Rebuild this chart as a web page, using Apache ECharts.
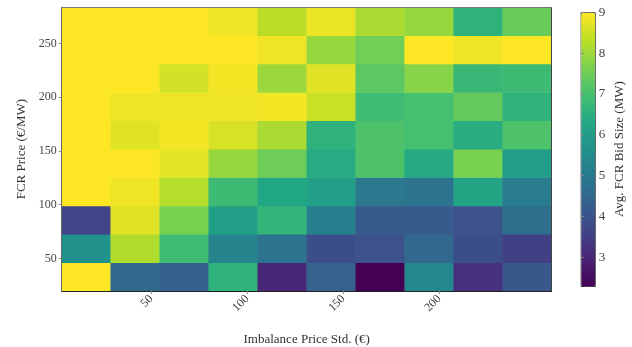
<!DOCTYPE html>
<html><head><meta charset="utf-8">
<script src="https://cdn.jsdelivr.net/npm/echarts@6/dist/echarts.min.js"></script>
<style>html,body{margin:0;padding:0;background:#fff}#c{width:632px;height:347px}</style>
</head><body><div id="c"></div>
<script>
// Bin edges of the heatmap (value units)
const xBinEdges = [3.3, 28.8, 54.4, 79.9, 105.4, 130.9, 156.5, 182.0, 207.5, 233.0, 258.5];
const yBinEdges = [19.6, 46.0, 72.4, 98.8, 125.2, 151.6, 178.0, 204.5, 230.9, 257.3, 283.7];
const xTickValues = [50, 100, 150, 200];
const yTickValues = [50, 100, 150, 200, 250];
const colorbarTicks = [3, 4, 5, 6, 7, 8, 9];
const valueMin = 2.3, valueMax = 9.0;
// Avg. FCR bid size (MW); rows from lowest FCR price bin to highest
const row0 = [9.0, 4.55, 4.35, 6.6, 3.0, 4.4, 2.3, 5.4, 3.25, 4.1];
const row1 = [5.65, 8.2, 6.9, 5.3, 4.85, 3.9, 3.98, 4.55, 3.9, 3.55];
const row2 = [3.65, 8.7, 7.65, 6.1, 6.7, 5.2, 4.2, 4.2, 4.0, 4.75];
const row3 = [9.0, 8.85, 8.25, 6.85, 6.3, 6.1, 4.95, 4.85, 6.2, 5.05];
const row4 = [9.0, 9.0, 8.75, 7.95, 7.5, 6.4, 7.1, 6.35, 7.65, 6.0];
const row5 = [9.0, 8.7, 8.92, 8.6, 8.15, 6.6, 7.1, 7.0, 6.45, 7.1];
const row6 = [9.0, 8.85, 8.85, 8.85, 8.9, 8.45, 6.9, 7.0, 7.4, 6.6];
const row7 = [9.0, 9.0, 8.55, 8.9, 8.0, 8.7, 7.3, 7.8, 6.75, 6.85];
const row8 = [9.0, 9.0, 9.0, 9.0, 8.85, 7.95, 7.55, 9.0, 8.85, 9.0];
const row9 = [9.0, 9.0, 9.0, 8.85, 8.3, 8.8, 8.15, 7.95, 6.6, 7.45];
const rows = [row0, row1, row2, row3, row4, row5, row6, row7, row8, row9];

const viridis = ['#440154','#482475','#414487','#355f8d','#2a788e','#21918c','#22a884','#44bf70','#7ad151','#bddf26','#fde725'];

const xCats = xBinEdges.slice(0, -1).map((e, i) => ((e + xBinEdges[i + 1]) / 2).toFixed(1));
const yCats = yBinEdges.slice(0, -1).map((e, i) => ((e + yBinEdges[i + 1]) / 2).toFixed(1));
const data = [];
rows.forEach((r, yi) => r.forEach((v, xi) => data.push([xi, yi, v])));

const font = 'Liberation Serif';
const labelStyle = { fontFamily: font, fontSize: 12, color: '#444' };
const G = { left: 61.7, top: 7.3, width: 490, height: 283.7 };
const CB = { left: 580.7, top: 12.3, width: 14, height: 273.7 };

const chart = echarts.init(document.getElementById('c'), null, { renderer: 'canvas' });
chart.setOption({
  animation: false,
  backgroundColor: '#fff',
  grid: [
    { left: G.left, top: G.top, width: G.width, height: G.height, outerBoundsMode: 'none', containLabel: false },
    { left: CB.left, top: CB.top, width: CB.width, height: CB.height, outerBoundsMode: 'none', containLabel: false }
  ],
  xAxis: [
    { type: 'category', gridIndex: 0, data: xCats, show: false },
    { type: 'value', gridIndex: 0, position: 'bottom', min: xBinEdges[0], max: xBinEdges[10], z: 5,
      axisLine: { show: true, lineStyle: { color: '#222', width: 1 } },
      axisTick: { show: true, length: 3, customValues: xTickValues, lineStyle: { color: '#888' } },
      axisLabel: { customValues: xTickValues, rotate: 45, margin: 6, ...labelStyle },
      splitLine: { show: false },
      name: 'Imbalance Price Std. (€)', nameLocation: 'middle', nameGap: 42,
      nameTextStyle: { fontFamily: font, fontSize: 13, color: '#333' } },
    { type: 'value', gridIndex: 0, position: 'top', min: xBinEdges[0], max: xBinEdges[10], z: 5,
      axisLine: { show: true, lineStyle: { color: '#777' } }, axisTick: { show: false },
      axisLabel: { show: false }, splitLine: { show: false } },
    { type: 'value', gridIndex: 1, show: false, min: 0, max: 1 }
  ],
  yAxis: [
    { type: 'category', gridIndex: 0, data: yCats, show: false },
    { type: 'value', gridIndex: 0, position: 'left', min: yBinEdges[0], max: yBinEdges[10], z: 5,
      axisLine: { show: true, lineStyle: { color: '#666' } },
      axisTick: { show: true, length: 3, customValues: yTickValues, lineStyle: { color: '#888' } },
      axisLabel: { customValues: yTickValues, margin: 5, ...labelStyle },
      splitLine: { show: false },
      name: 'FCR Price (€/MW)', nameLocation: 'middle', nameGap: 34,
      nameTextStyle: { fontFamily: font, fontSize: 13, color: '#333' } },
    { type: 'value', gridIndex: 0, position: 'right', min: yBinEdges[0], max: yBinEdges[10], z: 5,
      axisLine: { show: true, lineStyle: { color: '#444' } }, axisTick: { show: false },
      axisLabel: { show: false }, splitLine: { show: false } },
    { type: 'value', gridIndex: 1, position: 'right', min: valueMin, max: valueMax, z: 5,
      axisLine: { show: false },
      axisTick: { show: true, length: 3, customValues: colorbarTicks, lineStyle: { color: '#888' } },
      axisLabel: { customValues: colorbarTicks, margin: 4, ...labelStyle, fontSize: 13 },
      splitLine: { show: false },
      name: 'Avg. FCR Bid Size (MW)', nameLocation: 'middle', nameGap: 18,
      nameTextStyle: { fontFamily: font, fontSize: 13, color: '#333' } }
  ],
  visualMap: {
    type: 'continuous', min: valueMin, max: valueMax, dimension: 2, seriesIndex: 0,
    calculable: false, orient: 'vertical', left: CB.left, top: CB.top,
    itemWidth: CB.width, itemHeight: CB.height, padding: 0,
    borderColor: '#222', borderWidth: 1, text: null,
    inRange: { color: viridis }
  },
  series: [{
    type: 'heatmap', xAxisIndex: 0, yAxisIndex: 0, data: data,
    itemStyle: { borderWidth: 0 }, emphasis: { disabled: true }
  }]
});
</script></body></html>
